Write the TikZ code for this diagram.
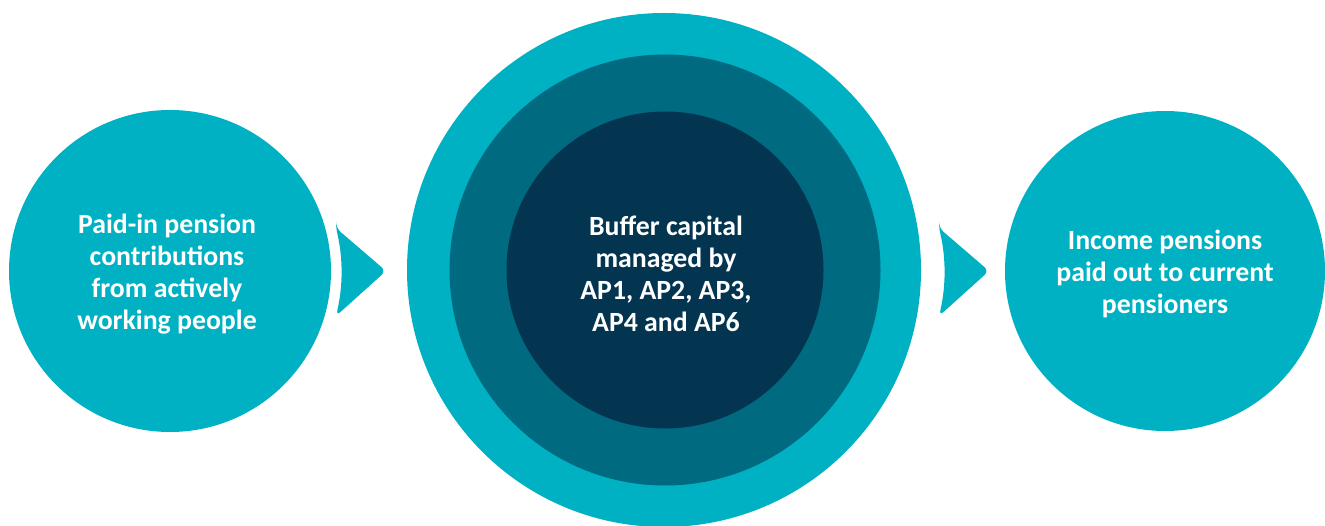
\documentclass[tikz,border=0pt]{standalone}
\usepackage{fontspec}
\setmainfont{Carlito}
\definecolor{tealA}{HTML}{00B1C4}
\definecolor{tealB}{HTML}{006A80}
\definecolor{tealC}{HTML}{033551}
\begin{document}
\begin{tikzpicture}[x=1pt,y=-1pt,
  disc/.style={circle,inner sep=0pt,draw=none},
  label/.style={text=white,align=center,font=\fontsize{27.8}{32}\selectfont\bfseries},
  chevron/.style={fill=tealA,draw=none,rounded corners=6pt}]
\useasboundingbox (0,0) rectangle (1325,526);
% side circles
\node[disc,fill=tealA,minimum size=322pt] (src) at (170,271) {};
\node[disc,fill=tealA,minimum size=320pt] (dst) at (1165,271) {};
% concentric buffer circles
\node[disc,fill=tealA,minimum size=514pt] (outer) at (664,270) {};
\node[disc,fill=tealB,minimum size=431pt] (mid) at (665,270) {};
\node[disc,fill=tealC,minimum size=317pt] (core) at (665,270) {};
% texts
\node[label] (srct) at (167,274) {Paid-in pension\\contributions\\from actively\\working people};
\node[label] (coret) at (666,274) {Buffer capital\\managed by\\AP1, AP2, AP3,\\AP4 and AP6};
\node[label] (dstt) at (1165,274) {Income pensions\\paid out to current\\pensioners};
% chevrons between the circles
\fill[chevron] (336,228) -- (386,271) -- (336,316)
  .. controls (343,286) and (343,258) .. cycle;
\fill[chevron] (939,228) -- (989,271) -- (939,316)
  .. controls (946,286) and (946,258) .. cycle;
\end{tikzpicture}
\end{document}
